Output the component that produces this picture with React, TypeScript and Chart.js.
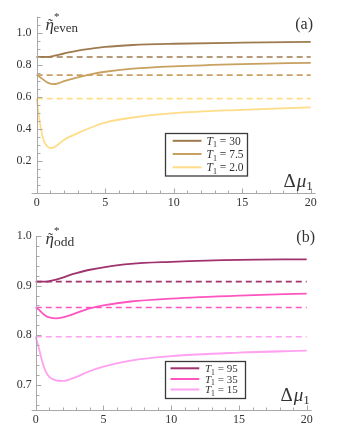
import React, { useEffect, useRef } from "react";
import { Chart, registerables } from "chart.js";
Chart.register(...registerables);

// ---------- data (panel a) ----------
const xEven = [0, 0.25, 0.5, 0.75, 1, 1.25, 1.5, 2, 3, 4, 5, 7, 10, 15, 20];
const evenT30 = [0.848, 0.848, 0.848, 0.849, 0.851, 0.855, 0.86, 0.87, 0.888, 0.9, 0.911, 0.923, 0.931, 0.938, 0.943];
const evenT75 = [0.737, 0.722, 0.706, 0.69, 0.681, 0.679, 0.682, 0.697, 0.721, 0.741, 0.756, 0.775, 0.79, 0.804, 0.812];
const evenT20 = [0.588, 0.43, 0.33, 0.292, 0.279, 0.283, 0.297, 0.33, 0.372, 0.409, 0.438, 0.47, 0.497, 0.518, 0.533];
const evenDashed = [0.848, 0.735, 0.588];
const evenTemps = ["30", "7.5", "2.0"];
const evenColors = ["#9e7b4f", "#c8a060", "#ffdd88"];

// ---------- data (panel b) ----------
const xOdd = [0, 0.25, 0.5, 0.75, 1, 1.5, 2, 2.5, 3, 4, 5, 7, 10, 15, 20];
const oddT95 = [0.908, 0.908, 0.908, 0.908, 0.909, 0.912, 0.916, 0.921, 0.925, 0.932, 0.937, 0.944, 0.948, 0.952, 0.953];
const oddT35 = [0.856, 0.851, 0.844, 0.839, 0.836, 0.834, 0.836, 0.84, 0.845, 0.854, 0.86, 0.868, 0.874, 0.88, 0.884];
const oddT15 = [0.797, 0.772, 0.745, 0.726, 0.716, 0.709, 0.708, 0.711, 0.716, 0.728, 0.737, 0.749, 0.758, 0.765, 0.769];
const oddDashed = [0.908, 0.856, 0.797];
const oddTemps = ["95", "35", "15"];
const oddColors = ["#a0326e", "#ff55c0", "#ffa0f0"];

const xTicks = [0, 5, 10, 15, 20];
const yTicksEven = [0.2, 0.4, 0.6, 0.8, 1.0];
const yTicksOdd = [0.7, 0.8, 0.9, 1.0];

const SERIF = '"Liberation Serif", "DejaVu Serif", serif';
const TEXT = "#333333";
const AXIS = "#a8a8a8";

type Panel = {
  xs: number[];
  series: number[][];
  dashed: number[];
  temps: string[];
  colors: string[];
  yTicks: number[];
  yMin: number;
  yMax: number;
  xMin: number;
  xMax: number;
  minorStep: number;
  padTop: number;
  padRight: number;
  yAxisWidth: number;
  sub: string;
  tag: string;
  layout: any;
};

const panels: Panel[] = [
  {
    xs: xEven,
    series: [evenT30, evenT75, evenT20],
    dashed: evenDashed,
    temps: evenTemps,
    colors: evenColors,
    yTicks: yTicksEven,
    yMin: 0,
    yMax: 1.1,
    xMin: -0.37,
    xMax: 20.35,
    minorStep: 0.05,
    padTop: 16.7,
    padRight: 23.5,
    yAxisWidth: 31.6,
    sub: "even",
    tag: "(a)",
    layout: {
      title: { x: 45.5, y: 30, starX: 54, starY: 20, subX: 53.5, subY: 31.5, subSize: 13 },
      tagPos: { x: 313, y: 29 },
      delta: { x: 283.5, y: 187 },
      legend: { x0: 165.5, y0: 133.5, x1: 247.5, y1: 176, rows: [140.8, 154, 167.3], lx0: 172.7, lx1: 201.5, tx: 206.5, size: 11.5 },
    },
  },
  {
    xs: xOdd,
    series: [oddT95, oddT35, oddT15],
    dashed: oddDashed,
    temps: oddTemps,
    colors: oddColors,
    yTicks: yTicksOdd,
    yMin: 0.65,
    yMax: 1.0,
    xMin: -0.3,
    xMax: 20.37,
    minorStep: 0.02,
    padTop: 19,
    padRight: 27.3,
    yAxisWidth: 31.7,
    sub: "odd",
    tag: "(b)",
    layout: {
      title: { x: 45.5, y: 27, starX: 54, starY: 17, subX: 54, subY: 29, subSize: 13.5 },
      tagPos: { x: 315, y: 25 },
      delta: { x: 280.5, y: 184 },
      legend: { x0: 165.5, y0: 144.5, x1: 245.5, y1: 181.5, rows: [151.3, 162, 172.5], lx0: 170.5, lx1: 199.3, tx: 205, size: 11 },
    },
  },
];

function drawT(ctx: CanvasRenderingContext2D, x: number, y: number, temp: string, size: number) {
  ctx.fillStyle = TEXT;
  ctx.textAlign = "left";
  ctx.textBaseline = "alphabetic";
  const base = y + size * 0.35;
  ctx.font = `italic ${size}px ${SERIF}`;
  ctx.fillText("T", x, base);
  let w = ctx.measureText("T").width;
  ctx.font = `${size * 0.7}px ${SERIF}`;
  ctx.fillText("1", x + w, base + size * 0.22);
  w += ctx.measureText("1").width;
  ctx.font = `${size}px ${SERIF}`;
  ctx.fillText(" = " + temp, x + w, base);
}

const decor = {
  id: "decor",
  afterDraw(chart: any, _args: any, opts: any) {
    const p: Panel = opts.panel;
    if (!p) return;
    const L = p.layout;
    const ctx: CanvasRenderingContext2D = chart.ctx;
    const xs = chart.scales.x;
    const ys = chart.scales.y;
    const ca = chart.chartArea;
    const x0 = Math.round(xs.getPixelForValue(0)) + 0.5;
    const yb = Math.round(ca.bottom) + 0.5;
    ctx.save();
    ctx.strokeStyle = AXIS;
    ctx.lineWidth = 1;
    const seg = (a: number, b: number, c: number, d: number) => {
      ctx.beginPath();
      ctx.moveTo(a, b);
      ctx.lineTo(c, d);
      ctx.stroke();
    };
    seg(ca.left, yb, ca.right, yb);
    seg(x0, ca.top, x0, yb);
    for (let v = 0; v <= 20; v++) {
      const px = Math.round(xs.getPixelForValue(v)) + 0.5;
      seg(px, yb, px, yb - (v % 5 === 0 ? 5 : 3));
    }
    const start = Math.ceil(p.yMin / p.minorStep - 1e-6);
    const end = Math.floor(p.yMax / p.minorStep + 1e-6);
    for (let i = start; i <= end; i++) {
      const v = i * p.minorStep;
      const major = p.yTicks.some((t) => Math.abs(t - v) < 1e-6);
      const py = Math.round(ys.getPixelForValue(v)) + 0.5;
      seg(x0, py, x0 + (major ? 5 : 3), py);
    }

    // legend
    const lg = L.legend;
    ctx.fillStyle = "#ffffff";
    ctx.fillRect(lg.x0, lg.y0, lg.x1 - lg.x0, lg.y1 - lg.y0);
    ctx.strokeStyle = "#3a3a3a";
    ctx.lineWidth = 1.3;
    ctx.strokeRect(lg.x0, lg.y0, lg.x1 - lg.x0, lg.y1 - lg.y0);
    p.temps.forEach((t, i) => {
      ctx.strokeStyle = p.colors[i];
      ctx.lineWidth = 2;
      seg(lg.lx0, lg.rows[i], lg.lx1, lg.rows[i]);
      drawT(ctx, lg.tx, lg.rows[i], t, lg.size);
    });

    // axis title
    const ti = L.title;
    ctx.fillStyle = TEXT;
    ctx.textAlign = "left";
    ctx.textBaseline = "alphabetic";
    ctx.font = `italic 17px ${SERIF}`;
    ctx.fillText("\u03B7", ti.x, ti.y);
    ctx.font = `15px ${SERIF}`;
    ctx.fillText("\u02DC", ti.x + 2.5, ti.y - 1);
    ctx.font = `11px ${SERIF}`;
    ctx.fillText("*", ti.starX, ti.starY);
    ctx.font = `${ti.subSize}px ${SERIF}`;
    ctx.fillText(p.sub, ti.subX, ti.subY);

    // panel tag
    ctx.font = `16px ${SERIF}`;
    ctx.textAlign = "right";
    ctx.fillText(p.tag, L.tagPos.x, L.tagPos.y);

    // delta mu_1
    ctx.textAlign = "left";
    ctx.font = `19px ${SERIF}`;
    const d = L.delta;
    ctx.fillText("\u0394", d.x, d.y);
    let w = ctx.measureText("\u0394").width;
    ctx.font = `italic 19px ${SERIF}`;
    ctx.fillText("\u03BC", d.x + w + 1, d.y);
    w += ctx.measureText("\u03BC").width + 1;
    ctx.font = `13px ${SERIF}`;
    ctx.fillText("1", d.x + w, d.y + 3);
    ctx.restore();
  },
};

function makeChart(canvas: HTMLCanvasElement, p: Panel) {
  const datasets: any[] = [];
  p.dashed.forEach((v, i) => {
    datasets.push({
      data: [
        { x: 0, y: v },
        { x: 20, y: v },
      ],
      borderColor: p.colors[i],
      borderWidth: 1.6,
      borderDash: [6, 4],
      pointRadius: 0,
      showLine: true,
    });
  });
  p.series.forEach((s, i) => {
    datasets.push({
      data: s.map((y, k) => ({ x: p.xs[k], y })),
      borderColor: p.colors[i],
      borderWidth: 1.8,
      pointRadius: 0,
      showLine: true,
      cubicInterpolationMode: "monotone",
    });
  });
  const tickFont = { family: SERIF, size: 12 };
  return new Chart(canvas, {
    type: "scatter",
    data: { datasets },
    plugins: [decor as any],
    options: {
      animation: false,
      responsive: false,
      events: [],
      layout: { padding: { top: p.padTop, right: p.padRight, left: 0, bottom: 0 } },
      plugins: { legend: { display: false }, tooltip: { enabled: false }, decor: { panel: p } } as any,
      scales: {
        x: {
          type: "linear",
          min: p.xMin,
          max: p.xMax,
          grid: { display: false, drawTicks: false },
          border: { display: false },
          ticks: { font: tickFont, color: TEXT, padding: 3, autoSkip: false, maxRotation: 0 },
          afterBuildTicks: (s: any) => {
            s.ticks = xTicks.map((v) => ({ value: v }));
          },
          afterFit: (s: any) => {
            s.height = 24.3;
          },
        },
        y: {
          type: "linear",
          min: p.yMin,
          max: p.yMax,
          grid: { display: false, drawTicks: false },
          border: { display: false },
          ticks: {
            font: tickFont,
            color: TEXT,
            padding: 0,
            autoSkip: false,
            callback: (v: any) => Number(v).toFixed(1),
          },
          afterBuildTicks: (s: any) => {
            s.ticks = p.yTicks.map((v) => ({ value: v }));
          },
          afterFit: (s: any) => {
            s.width = p.yAxisWidth;
          },
        },
      },
    } as any,
  });
}

function PanelChart({ panel, top }: { panel: Panel; top: number }) {
  const ref = useRef<HTMLCanvasElement | null>(null);
  useEffect(() => {
    if (!ref.current) return;
    const c = makeChart(ref.current, panel);
    return () => c.destroy();
  }, [panel]);
  return (
    <div style={{ position: "absolute", left: 0, top, width: 339, height: 217 }}>
      <canvas ref={ref} width={339} height={217} style={{ display: "block", width: 339, height: 217 }} />
    </div>
  );
}

export default function App() {
  return (
    <div style={{ position: "absolute", left: 0, top: 0, width: 339, height: 434, background: "#ffffff" }}>
      <PanelChart panel={panels[0]} top={0} />
      <PanelChart panel={panels[1]} top={217} />
    </div>
  );
}
